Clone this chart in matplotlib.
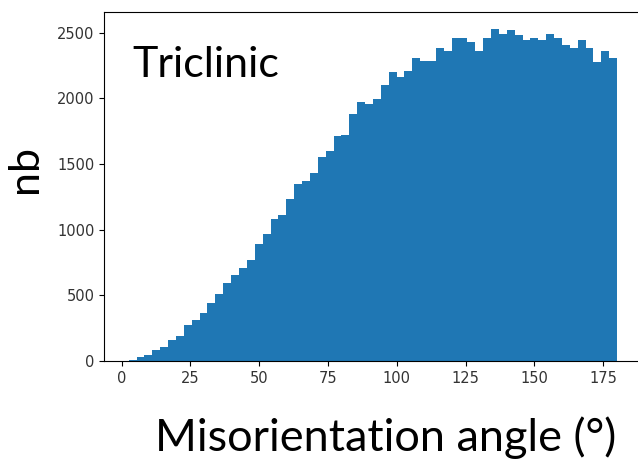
import numpy as np
import matplotlib.pyplot as plt

# misorientation histogram, triclinic symmetry
angle_min = 2.6
angle_max = 180.0
nb = [10, 33, 46, 84, 109, 158, 193, 277, 315, 364,
      440, 511, 597, 658, 707, 768, 890, 966, 1085, 1111,
      1233, 1345, 1368, 1432, 1551, 1600, 1711, 1722, 1882, 1970,
      1960, 1993, 2105, 2199, 2164, 2212, 2306, 2286, 2286, 2382,
      2362, 2456, 2456, 2431, 2361, 2456, 2529, 2494, 2519, 2484,
      2447, 2456, 2447, 2494, 2456, 2408, 2385, 2445, 2385, 2275,
      2359, 2310]

edges = np.linspace(angle_min, angle_max, len(nb) + 1)
centers = 0.5 * (edges[:-1] + edges[1:])

W, H = 638, 467
fig = plt.figure(figsize=(W / 100, H / 100), dpi=100)
ax = fig.add_axes([104.3 / W, (H - 361) / H, 537.2 / W, 348.7 / H])
ax.hist(centers, bins=edges, weights=nb, color="#1f77b4")
ax.tick_params(labelsize=10.5, labelcolor="#333333")

big = dict(family=["Lato", "DejaVu Sans"], color="black")
fig.text(132 / W, 1 - 77 / H, "Triclinic", fontsize=31, ha="left", va="baseline", **big)
fig.text(25 / W, 1 - 169 / H, "nb", fontsize=31, rotation=90, ha="center", va="center", **big)
fig.text(386 / W, 1 - 451 / H, "Misorientation angle (°)", fontsize=32.5,
         ha="center", va="baseline", **big)

fig.savefig("out.png", dpi=100)
